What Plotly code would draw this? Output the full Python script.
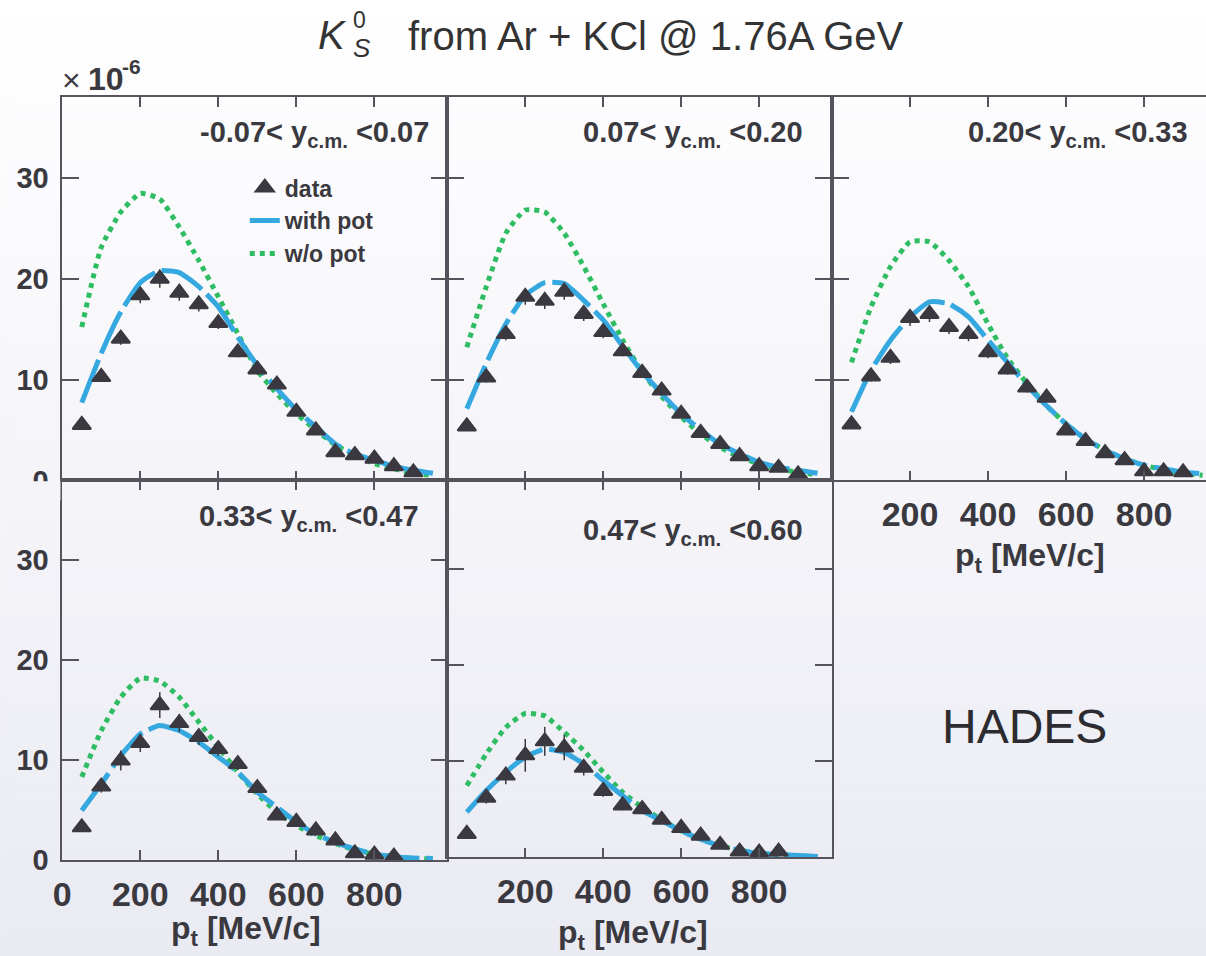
import plotly.graph_objects as go

W, H = 1206, 956

# layout is designed in page pixels; the page shows the figure shifted
# 8 px to the right and slightly reduced, so positions are mapped back
OX = 8.0
SX = 0.9934
SY = 0.9825

# transverse momentum grid (MeV/c)
pt_data_long = [50, 100, 150, 200, 250, 300, 350, 400, 450, 500, 550, 600, 650, 700, 750, 800, 850, 900]
pt_data_short = [50, 100, 150, 200, 250, 300, 350, 400, 450, 500, 550, 600, 650, 700, 750, 800, 850]
pt_model = [50, 100, 150, 200, 250, 300, 350, 400, 450, 500, 550, 600, 650, 700, 750, 800, 850, 900, 950]

rapidity_labels = [
    "-0.07< y<sub>c.m.</sub> <0.07",
    "0.07< y<sub>c.m.</sub> <0.20",
    "0.20< y<sub>c.m.</sub> <0.33",
    "0.33< y<sub>c.m.</sub> <0.47",
    "0.47< y<sub>c.m.</sub> <0.60",
]

# measured spectra (x 10^-6)
data_y1 = [5.5, 10.25, 14.05, 18.35, 20.0, 18.6, 17.45, 15.6, 12.7, 11.0, 9.5, 6.8, 4.95, 2.8, 2.5, 2.15, 1.4, 0.8]
data_y2 = [5.35, 10.2, 14.5, 18.2, 17.8, 18.7, 16.5, 14.7, 12.8, 10.65, 8.9, 6.6, 4.7, 3.6, 2.4, 1.4, 1.25, 0.6]
data_y3 = [5.55, 10.3, 12.15, 16.1, 16.5, 15.2, 14.5, 12.7, 11.0, 9.2, 8.2, 4.95, 3.9, 2.7, 2.0, 0.9, 0.9, 0.8]
data_y4 = [3.27, 7.35, 9.95, 11.7, 15.5, 13.7, 12.3, 11.1, 9.6, 7.2, 4.45, 3.8, 2.95, 1.95, 0.67, 0.53, 0.33]
data_y5 = [2.43, 6.2, 8.5, 10.6, 12.05, 11.4, 9.3, 6.9, 5.4, 5.0, 3.9, 3.05, 2.25, 1.3, 0.6, 0.5, 0.6]

# statistical errors
err_y1 = [0.4, 0.5, 0.6, 0.8, 0.9, 0.8, 0.7, 0.6, 0.5, 0.5, 0.4, 0.4, 0.3, 0.3, 0.3, 0.2, 0.2, 0.2]
err_y2 = [0.4, 0.5, 0.6, 0.8, 0.8, 0.8, 0.7, 0.6, 0.5, 0.5, 0.4, 0.4, 0.3, 0.3, 0.3, 0.2, 0.2, 0.2]
err_y3 = [0.4, 0.5, 0.6, 0.8, 0.8, 0.7, 0.7, 0.6, 0.5, 0.5, 0.4, 0.4, 0.3, 0.3, 0.3, 0.2, 0.2, 0.2]
err_y4 = [0.4, 0.6, 1.0, 0.9, 1.3, 0.9, 0.8, 0.7, 0.6, 0.5, 0.4, 0.4, 0.3, 0.3, 0.2, 0.2, 0.2]
err_y5 = [0.4, 0.6, 0.9, 1.7, 1.5, 1.3, 0.8, 0.6, 0.5, 0.4, 0.4, 0.3, 0.3, 0.2, 0.2, 0.2, 0.2]

# transport model with kaon-nucleon potential
with_pot1 = [7.7, 12.6, 16.7, 19.6, 20.8, 20.6, 19.2, 17.2, 14.2, 11.4, 9.1, 7.0, 5.3, 3.6, 2.6, 2.0, 1.4, 1.0, 0.7]
with_pot2 = [7.1, 11.6, 15.5, 18.35, 19.6, 19.5, 17.85, 15.9, 13.3, 10.75, 8.6, 6.6, 5.0, 3.6, 2.65, 1.8, 1.3, 1.0, 0.7]
with_pot3 = [6.8, 10.9, 13.9, 16.2, 17.7, 17.5, 16.2, 13.9, 11.7, 9.4, 7.4, 5.6, 4.1, 3.0, 2.15, 1.5, 1.15, 0.8, 0.65]
with_pot4 = [4.95, 7.6, 10.45, 12.6, 13.45, 12.95, 11.8, 10.3, 8.8, 6.8, 5.3, 3.8, 2.6, 1.75, 1.1, 0.6, 0.33, 0.2, 0.15]
with_pot5 = [4.7, 6.95, 8.85, 10.4, 11.25, 10.9, 9.7, 8.0, 6.4, 4.85, 3.8, 2.75, 1.9, 1.2, 0.75, 0.4, 0.3, 0.2, 0.1]

# transport model without potential
wo_pot1 = [15.2, 23.1, 26.6, 28.45, 27.9, 25.1, 21.8, 18.2, 14.55, 10.9, 8.6, 6.6, 5.0, 3.5, 2.5, 1.65, 1.15, 0.7, 0.5]
wo_pot2 = [13.2, 19.2, 24.5, 26.8, 26.6, 24.5, 21.2, 17.5, 13.9, 10.75, 8.3, 6.3, 4.6, 3.3, 2.3, 1.65, 1.15, 0.8, 0.55]
wo_pot3 = [11.7, 17.2, 21.2, 23.65, 23.65, 21.8, 19.2, 15.5, 12.1, 9.6, 7.4, 5.6, 4.1, 3.0, 2.15, 1.5, 1.05, 0.7, 0.5]
wo_pot4 = [8.3, 12.95, 16.3, 18.2, 17.9, 16.3, 13.8, 11.3, 8.8, 6.6, 4.8, 3.45, 2.45, 1.65, 1.0, 0.6, 0.33, 0.16, 0.1]
wo_pot5 = [7.45, 10.75, 13.5, 14.95, 14.7, 13.0, 11.1, 8.85, 6.75, 5.2, 3.9, 2.75, 1.9, 1.2, 0.75, 0.4, 0.3, 0.15, 0.08]

x_ticks_labelled = [0, 200, 400, 600, 800]
x_ticks_plain = [200, 400, 600, 800]
y_ticks_labelled = [0, 10, 20, 30]
y_ticks_plain = [10, 20, 30]

# ---- style ----
FONT = "Liberation Sans"
TEXT = "#3a3940"
FRAME = "#55545c"
MARK = "#3b3840"
BLUE = "#35a8e0"
GREEN = "#2ebd62"


# page pixel -> figure paper coordinates
def px(x):
    return ((x - OX) / SX) / W


def py(y):
    return 1 - (y / SY) / H


XSCALE = 385.4 / 987.0          # page pixels per MeV/c
PAGE_RIGHT = OX + W * SX        # right edge of the figure on the page

# panel frames in page pixels: (left, right, top, bottom, xmax, ymax)
panels = [
    (61.3, 446.7, 97.0, 480.0, 987.0, 38.0),
    (446.7, 831.7, 97.0, 480.0, 987.0, 38.0),
    (831.7, PAGE_RIGHT, 97.0, 480.0, (PAGE_RIGHT - 831.7) / XSCALE, 38.0),
    (61.3, 446.7, 480.0, 859.3, 987.0, 38.0),
    (446.7, 831.7, 480.0, 856.7, 987.0, 39.16),
]

panel_data = [
    (pt_data_long, data_y1, err_y1, with_pot1, wo_pot1),
    (pt_data_long, data_y2, err_y2, with_pot2, wo_pot2),
    (pt_data_long, data_y3, err_y3, with_pot3, wo_pot3),
    (pt_data_short, data_y4, err_y4, with_pot4, wo_pot4),
    (pt_data_short, data_y5, err_y5, with_pot5, wo_pot5),
]

fig = go.Figure()

for i, (xs, ys, es, wp, wo) in enumerate(panel_data):
    n = i + 1
    xa = "x" if n == 1 else f"x{n}"
    ya = "y" if n == 1 else f"y{n}"
    first = (n == 1)
    fig.add_trace(go.Scatter(
        x=pt_model, y=wo, mode="lines", name="w/o pot", legendrank=3,
        line=dict(color=GREEN, width=5, dash="5px,5px", shape="spline", smoothing=0.5),
        xaxis=xa, yaxis=ya, showlegend=first, hoverinfo="skip"))
    fig.add_trace(go.Scatter(
        x=pt_model, y=wp, mode="lines", name="with pot", legendrank=2,
        line=dict(color=BLUE, width=5, dash="46px,7px", shape="spline", smoothing=0.5),
        xaxis=xa, yaxis=ya, showlegend=first, hoverinfo="skip"))
    fig.add_trace(go.Scatter(
        x=xs, y=ys, mode="markers", name="data", legendrank=1,
        marker=dict(symbol="triangle-up", size=16, color=MARK,
                    line=dict(color=MARK, width=2)),
        error_y=dict(type="data", array=es, thickness=1.5, width=0, color=MARK),
        xaxis=xa, yaxis=ya, showlegend=first))

layout = dict(
    width=W, height=H,
    autosize=False,
    margin=dict(l=0, r=0, t=0, b=0),
    paper_bgcolor="rgba(0,0,0,0)",
    plot_bgcolor="rgba(0,0,0,0)",
    font=dict(family=FONT, color=TEXT),
    showlegend=True,
    legend=dict(x=px(244), y=py(166), xanchor="left", yanchor="top",
                bgcolor="rgba(0,0,0,0)", borderwidth=0,
                font=dict(family=FONT, size=23, color=TEXT, weight="bold"),
                traceorder="normal", itemwidth=30),
)

for i, (l, r, t, b, xmax, ymax) in enumerate(panels):
    n = i + 1
    xk = "xaxis" if n == 1 else f"xaxis{n}"
    yk = "yaxis" if n == 1 else f"yaxis{n}"
    ya = "y" if n == 1 else f"y{n}"
    xa = "x" if n == 1 else f"x{n}"
    x_lab = n in (3, 4, 5)
    y_lab = n in (1, 4)
    xt = x_ticks_labelled if n == 4 else x_ticks_plain
    yt = y_ticks_labelled if y_lab else y_ticks_plain
    layout[xk] = dict(
        domain=[max(px(l), 0), min(px(r), 1)], anchor=ya, range=[0, xmax],
        showgrid=False, zeroline=False, showline=True, linecolor=FRAME, linewidth=1.5,
        mirror="ticks",
        ticks="inside", ticklen=10, tickwidth=1.5, tickcolor=FRAME,
        tickmode="array", tickvals=xt, showticklabels=x_lab,
        tickfont=dict(family=FONT, size=34, color=TEXT, weight="bold"),
        ticklabelstandoff=3,
        fixedrange=True,
    )
    layout[yk] = dict(
        domain=[max(py(b), 0), min(py(t), 1)], anchor=xa, range=[0, ymax],
        showgrid=False, zeroline=False, showline=True, linecolor=FRAME, linewidth=1.5,
        mirror="ticks" if n != 3 else False,
        ticks="inside", ticklen=17, tickwidth=1.5, tickcolor=FRAME,
        tickmode="array", tickvals=yt, showticklabels=y_lab,
        tickfont=dict(family=FONT, size=29, color=TEXT, weight="bold"),
        ticklabelstandoff=6,
        fixedrange=True,
    )

PAGE_H = 956
TOP_RGB = (255, 255, 255)
BOT_RGB = (234, 234, 243)


# vertical background gradient, by page row
def bg_color(y):
    f = min(max(y / PAGE_H, 0), 1)
    c = [round(a + (b - a) * f) for a, b in zip(TOP_RGB, BOT_RGB)]
    return "rgb({},{},{})".format(*c)


shapes = []
band = 16
for k in range(0, H, band):
    k2 = min(k + band, H)
    shapes.append(dict(type="rect", xref="paper", yref="paper",
                       x0=0, x1=1, y0=1 - k2 / H, y1=1 - k / H,
                       fillcolor=bg_color((k + k2) / 2 * SY), line=dict(width=0), layer="below"))
# the lower pad hides the bottom half of the upper "0" label
shapes.append(dict(type="rect", xref="paper", yref="paper",
                   x0=px(20), x1=px(59.5), y0=py(500), y1=py(480.8),
                   fillcolor=bg_color(490), line=dict(width=0), layer="above"))
layout["shapes"] = shapes

ann = []
# title
ann.append(dict(text="<i>K</i>", x=px(332), y=py(35), xref="paper", yref="paper",
                showarrow=False, xanchor="center", yanchor="middle",
                font=dict(family=FONT, size=40, color="#333333")))
ann.append(dict(text="0", x=px(359), y=py(20), xref="paper", yref="paper",
                showarrow=False, xanchor="center", yanchor="middle",
                font=dict(family=FONT, size=23, color="#333333")))
ann.append(dict(text="<i>S</i>", x=px(361), y=py(48), xref="paper", yref="paper",
                showarrow=False, xanchor="center", yanchor="middle",
                font=dict(family=FONT, size=26, color="#333333")))
ann.append(dict(text="from Ar + KCl @ 1.76A GeV", x=px(405), y=py(36), xref="paper", yref="paper",
                showarrow=False, xanchor="left", yanchor="middle",
                font=dict(family=FONT, size=40, color="#333333")))

# common exponent
ann.append(dict(text="×", x=px(71), y=py(80), xref="paper", yref="paper",
                showarrow=False, xanchor="center", yanchor="middle",
                font=dict(family=FONT, size=32, color=TEXT)))
ann.append(dict(text="<b>10</b>", x=px(85), y=py(79), xref="paper", yref="paper",
                showarrow=False, xanchor="left", yanchor="middle",
                font=dict(family=FONT, size=32, color=TEXT)))
ann.append(dict(text="<b>-6</b>", x=px(119), y=py(66), xref="paper", yref="paper",
                showarrow=False, xanchor="left", yanchor="middle",
                font=dict(family=FONT, size=21, color=TEXT)))

# rapidity bins
label_pos = [(430, 134), (805, 134), (1190, 134), (420, 518), (805, 532)]
for txt, (lx, ly) in zip(rapidity_labels, label_pos):
    ann.append(dict(text=txt, x=px(lx), y=py(ly), xref="paper", yref="paper",
                    showarrow=False, xanchor="right", yanchor="middle",
                    font=dict(family=FONT, size=29, color=TEXT, weight="bold")))

# axis titles
for (tx, ty) in [(245, 907.5), (633, 911), (1030, 534.5)]:
    ann.append(dict(text="p<sub>t</sub> [MeV/c]", x=px(tx), y=py(ty), xref="paper", yref="paper",
                    showarrow=False, xanchor="center", yanchor="top",
                    font=dict(family=FONT, size=32, color=TEXT, weight="bold")))

ann.append(dict(text="HADES", x=px(1024), y=py(726), xref="paper", yref="paper",
                showarrow=False, xanchor="center", yanchor="middle",
                font=dict(family=FONT, size=48, color="#2b2b30")))
layout["annotations"] = ann

fig.update_layout(**layout)

# page background carries the same gradient around the figure
page_bg = (
    "document.documentElement.style.background="
    "'linear-gradient(rgb(255,255,255), rgb(234,234,243))';"
    "document.documentElement.style.minHeight='100%';"
)
fig.write_html("out.html", config={"responsive": False}, post_script=page_bg)
